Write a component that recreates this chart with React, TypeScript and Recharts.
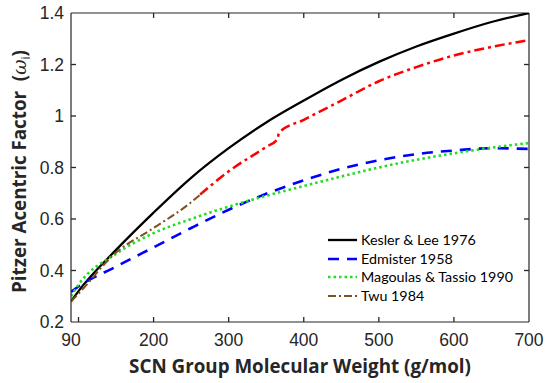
import React from 'react';
import { LineChart, Line, XAxis, YAxis, Legend, ReferenceLine } from 'recharts';

// molecular weight grid shared by the three full-range correlations
const MW = [90, 100, 150, 200, 250, 300, 350, 400, 450, 500, 550, 600, 650, 700];
const KESLER_LEE = [0.28, 0.32, 0.48, 0.625, 0.76, 0.875, 0.975, 1.06, 1.14, 1.21, 1.27, 1.32, 1.365, 1.4];
const EDMISTER = [0.317, 0.338, 0.415, 0.49, 0.565, 0.636, 0.698, 0.75, 0.795, 0.828, 0.852, 0.866, 0.875, 0.872];
const MAGOULAS = [0.3, 0.345, 0.465, 0.545, 0.6, 0.648, 0.69, 0.728, 0.765, 0.8, 0.83, 0.855, 0.877, 0.895];

// Twu 1984, low MW part (brown) and the upper branch (red)
const TWU_MW = [90, 100, 150, 200, 250, 268];
const TWU = [0.28, 0.31, 0.47, 0.565, 0.665, 0.71];
const TWU_HI_MW = [262, 300, 350, 365, 367, 400, 450, 500, 550, 600, 650, 700];
const TWU_HI = [0.695, 0.785, 0.88, 0.91, 0.935, 0.985, 1.06, 1.135, 1.19, 1.235, 1.268, 1.295];

const LEGEND_ORDER = ['Kesler & Lee 1976', 'Edmister 1958', 'Magoulas & Tassio 1990', 'Twu 1984'];

const X_TICKS = [90, 100, 200, 300, 400, 500, 600, 700];
const X_NO_LABEL = [100];
const X_BOTTOM_MARKS = [100, 200, 300, 400, 500, 600];
const X_TOP_MARKS = [200, 300, 400, 500, 600];
const Y_TICKS = [0.2, 0.4, 0.6, 0.8, 1, 1.2, 1.4];
const Y_MARKS = [0.4, 0.6, 0.8, 1, 1.2];

const pts = (xs: number[], ys: number[]) => xs.map((x, i) => ({ x, y: ys[i] }));

// layout
const W = 550;
const H = 383;
const MARGIN = { top: 13, right: 21, bottom: 0, left: 0 };
const Y_AXIS_W = 71;
const X_AXIS_H = 61;
const PLOT_TOP = MARGIN.top;
const PLOT_BOTTOM = H - MARGIN.bottom - X_AXIS_H;
const PLOT_LEFT = MARGIN.left + Y_AXIS_W;
const PLOT_RIGHT = W - MARGIN.right;

const AXIS = '#262626';
const TICK_LEN = 5;
const FONT_TICK = 'Liberation Sans, Arial, sans-serif';
const axisStroke = { stroke: AXIS, strokeWidth: 1.2 };

// bottom axis: label below, inward tick marks on bottom and top frame
const BottomTick = (props: any) => {
  const { x, y, payload } = props;
  const v = payload.value;
  return (
    <g>
      {X_BOTTOM_MARKS.includes(v) && (
        <line x1={x} x2={x} y1={PLOT_BOTTOM} y2={PLOT_BOTTOM - TICK_LEN} stroke={AXIS} strokeWidth={1.3} />
      )}
      {X_TOP_MARKS.includes(v) && (
        <line x1={x} x2={x} y1={PLOT_TOP} y2={PLOT_TOP + TICK_LEN} stroke={AXIS} strokeWidth={1.3} />
      )}
      {!X_NO_LABEL.includes(v) && (
        <text x={x} y={y} dy="0.75em" textAnchor="middle" fontFamily={FONT_TICK} fontSize={17.5} fill={AXIS}>
          {v}
        </text>
      )}
    </g>
  );
};

// left axis: label, inward tick marks on left and right frame
const LeftTick = (props: any) => {
  const { x, y, payload } = props;
  const v = payload.value;
  const mark = Y_MARKS.includes(v);
  return (
    <g>
      {mark && <line x1={PLOT_LEFT} x2={PLOT_LEFT + TICK_LEN} y1={y} y2={y} stroke={AXIS} strokeWidth={1.3} />}
      {mark && <line x1={PLOT_RIGHT} x2={PLOT_RIGHT - TICK_LEN} y1={y} y2={y} stroke={AXIS} strokeWidth={1.3} />}
      <text x={x} y={y} dy="0.36em" textAnchor="end" fontFamily={FONT_TICK} fontSize={17.5} fill={AXIS}>
        {v}
      </text>
    </g>
  );
};

const XTitle = (props: any) => {
  const { x, y, width } = props.viewBox;
  return (
    <text
      x={x + width / 2}
      y={y + 51}
      textAnchor="middle"
      fontFamily="Open Sans, sans-serif"
      fontWeight="bold"
      fontSize={18.8}
      fill={AXIS}
    >
      SCN Group Molecular Weight (g/mol)
    </text>
  );
};

const YTitle = (props: any) => {
  const { y, height } = props.viewBox;
  const cx = 26;
  const cy = y + height / 2 + 4;
  return (
    <text
      x={cx}
      y={cy}
      transform={`rotate(-90, ${cx}, ${cy})`}
      textAnchor="middle"
      fontFamily="Open Sans, sans-serif"
      fontWeight="bold"
      fontSize={18.8}
      fill={AXIS}
    >
      Pitzer Acentric Factor{'\u00a0\u00a0'}(
      <tspan fontStyle="italic" fontWeight="normal" fontFamily="DejaVu Serif, serif">ω</tspan>
      <tspan fontSize={12} fontWeight="normal" dy={4}>i</tspan>
      <tspan dy={-4}>)</tspan>
    </text>
  );
};

const LegendBox = (props: any) => {
  const items = (props.payload || [])
    .filter((p: any) => LEGEND_ORDER.includes(p.value))
    .sort((a: any, b: any) => LEGEND_ORDER.indexOf(a.value) - LEGEND_ORDER.indexOf(b.value));
  return (
    <div style={{ fontFamily: 'Lato, sans-serif', fontSize: 14.3, color: '#000', lineHeight: '18.5px' }}>
      {items.map((it: any) => (
        <div key={it.value} style={{ display: 'flex', alignItems: 'center', whiteSpace: 'nowrap' }}>
          <svg width={32} height={18} style={{ marginRight: 3 }}>
            <line
              x1={2}
              x2={31}
              y1={9}
              y2={9}
              stroke={it.color}
              strokeWidth={it.payload?.strokeWidth ?? 2}
              strokeDasharray={it.payload?.strokeDasharray}
            />
          </svg>
          <span>{it.value}</span>
        </div>
      ))}
    </div>
  );
};

export default function App() {
  return (
    <div style={{ position: 'absolute', left: 0, top: 0, width: W, height: H, background: '#fff' }}>
      <LineChart width={W} height={H} margin={MARGIN}>
        <XAxis
          xAxisId="x"
          type="number"
          dataKey="x"
          domain={[90, 700]}
          ticks={X_TICKS}
          interval={0}
          allowDataOverflow
          height={X_AXIS_H}
          tickSize={0}
          tickMargin={11}
          tickLine={false}
          axisLine={axisStroke}
          tick={BottomTick}
          label={{ content: XTitle }}
        />
        <YAxis
          yAxisId="y"
          type="number"
          domain={[0.2, 1.4]}
          ticks={Y_TICKS}
          interval={0}
          allowDataOverflow
          width={Y_AXIS_W}
          tickSize={0}
          tickMargin={7}
          tickLine={false}
          axisLine={axisStroke}
          tick={LeftTick}
          label={{ content: YTitle }}
        />
        {/* top and right frame */}
        <ReferenceLine xAxisId="x" yAxisId="y" y={1.4} ifOverflow="visible" stroke={AXIS} strokeWidth={1.2} />
        <ReferenceLine xAxisId="x" yAxisId="y" x={700} ifOverflow="visible" stroke={AXIS} strokeWidth={1.2} />
        <Legend
          layout="horizontal"
          verticalAlign="middle"
          align="center"
          content={LegendBox}
          wrapperStyle={{ position: 'absolute', left: 326, top: 231, width: 'auto', height: 'auto' }}
        />
        <Line
          xAxisId="x"
          yAxisId="y"
          name="Twu 1984 (high)"
          legendType="none"
          data={pts(TWU_HI_MW, TWU_HI)}
          dataKey="y"
          type="monotone"
          stroke="#ff0000"
          strokeWidth={2.5}
          strokeDasharray="10 4 3 4"
          dot={false}
          isAnimationActive={false}
        />
        <Line
          xAxisId="x"
          yAxisId="y"
          name="Kesler & Lee 1976"
          data={pts(MW, KESLER_LEE)}
          dataKey="y"
          type="monotone"
          stroke="#000000"
          strokeWidth={2.3}
          dot={false}
          isAnimationActive={false}
        />
        <Line
          xAxisId="x"
          yAxisId="y"
          name="Edmister 1958"
          data={pts(MW, EDMISTER)}
          dataKey="y"
          type="monotone"
          stroke="#0000ff"
          strokeWidth={2.6}
          strokeDasharray="11 8"
          dot={false}
          isAnimationActive={false}
        />
        <Line
          xAxisId="x"
          yAxisId="y"
          name="Magoulas & Tassio 1990"
          data={pts(MW, MAGOULAS)}
          dataKey="y"
          type="monotone"
          stroke="#22dd22"
          strokeWidth={2.6}
          strokeDasharray="2.5 3"
          dot={false}
          isAnimationActive={false}
        />
        <Line
          xAxisId="x"
          yAxisId="y"
          name="Twu 1984"
          data={pts(TWU_MW, TWU)}
          dataKey="y"
          type="monotone"
          stroke="#7f5020"
          strokeWidth={2}
          strokeDasharray="8 3 2 3"
          dot={false}
          isAnimationActive={false}
        />
      </LineChart>
    </div>
  );
}
